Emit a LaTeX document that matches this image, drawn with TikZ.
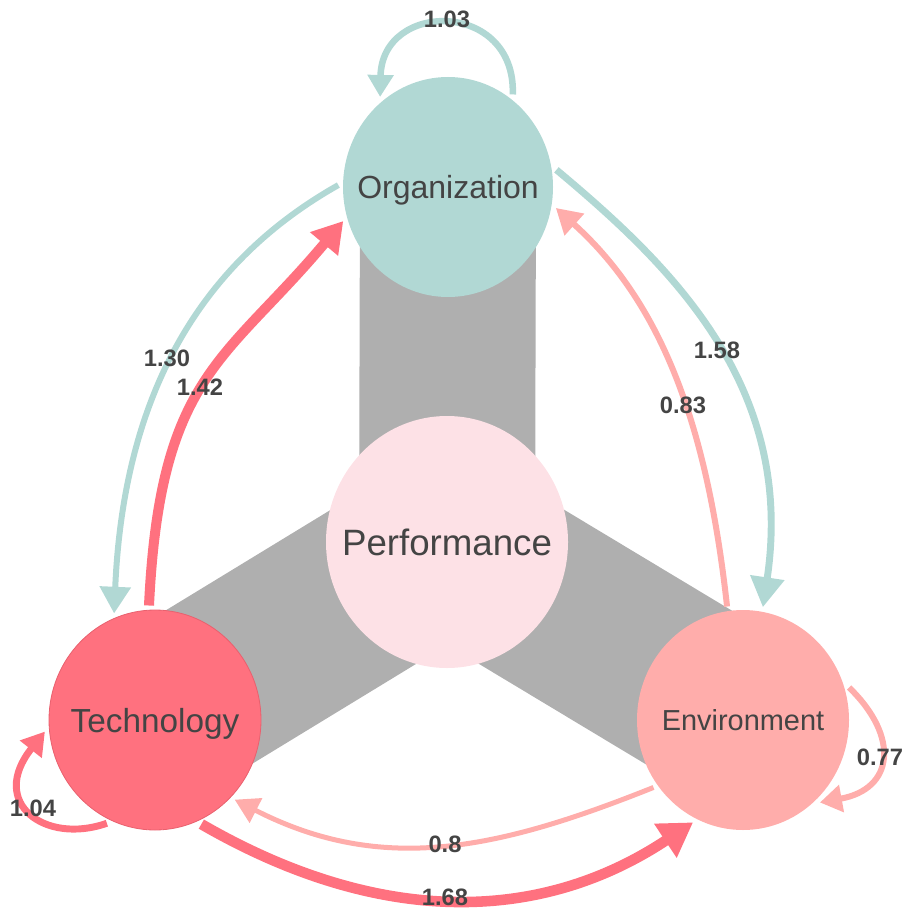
\documentclass[tikz,border=0pt]{standalone}
\usepackage{fontspec}
\setmainfont{Liberation Sans}
\usetikzlibrary{arrows.meta,shapes.geometric,backgrounds}
\definecolor{orgc}{HTML}{B1D8D4}
\definecolor{perfc}{HTML}{FDE1E6}
\definecolor{techc}{HTML}{FF717F}
\definecolor{techd}{HTML}{E9606E}
\definecolor{envc}{HTML}{FFADAB}
\definecolor{barc}{HTML}{AFAFAF}
\definecolor{ink}{HTML}{444444}
\newcommand{\ctext}[1]{\smash{\makebox[0pt]{\raisebox{-0.5\height}{#1}}}}
\tikzset{
  blob/.style 2 args={ellipse, minimum width=#1*0.75pt, minimum height=#2*0.75pt,
    inner sep=0pt, outer sep=3.5pt, text=ink},
  bar/.style={draw=barc, line width=132pt, line cap=butt},
  tealE/.style={draw=orgc, line cap=butt},
  redE/.style={draw=techc, line cap=butt},
  pinkE/.style={draw=envc, line cap=butt},
  tip/.style 2 args={-{Triangle[length=#1,width=#2]}},
  lbl/.style={font=\bfseries\fontsize{17.8}{20}\selectfont, text=ink, inner sep=0pt},
}
\begin{document}
\begin{tikzpicture}[x=0.75pt, y=-0.75pt]
\useasboundingbox (0,0) rectangle (904,909);

% factor nodes (labels are zero-size boxes so the ellipse keeps its given size)
\node[blob={210}{220}, fill=orgc, font=\fontsize{24}{28}\selectfont] (org) at (448,187) {\ctext{Organization}};
\node[blob={242}{252}, fill=perfc, font=\fontsize{27.5}{32}\selectfont] (perf) at (447,542) {\ctext{Performance}};
\node[blob={212}{220}, fill=techc, draw=techd, line width=0.6pt, font=\fontsize{25}{30}\selectfont] (tech) at (155,720) {\ctext{Technology}};
\node[blob={212}{220}, fill=envc, font=\fontsize{21.7}{26}\selectfont] (env) at (743,720) {\ctext{Environment}};

% thick grey links from the centre factor
\begin{scope}[on background layer]
  \draw[bar] (perf.center) -- (org.center);
  \draw[bar] (perf.center) -- (tech.center);
  \draw[bar] (perf.center) -- (env.center);
\end{scope}

% weighted directed edges
\draw[tealE, line width=4.9pt, tip={16.5pt}{18.75pt}]
  (org.55) .. controls (516,0) and (382,0) .. (org.127);
\draw[tealE, line width=4.5pt, tip={20pt}{22.5pt}]
  (org.179) .. controls (209,258) and (124,383) .. (tech.111);
\draw[redE, line width=7.5pt, tip={22.5pt}{26pt}]
  (tech.93) .. controls (160,375) and (225,362) .. (org.198);
\draw[tealE, line width=5.2pt, tip={22.5pt}{24.75pt}]
  (org.9) .. controls (669,264) and (796,385) .. (env.80);
\draw[pinkE, line width=4.5pt, tip={18.75pt}{21pt}]
  (env.98) .. controls (708,433) and (665,306) .. (org.349);
\draw[pinkE, line width=4.5pt, tip={16.5pt}{20pt}]
  (env.17) .. controls (900,737) and (894,789) .. (env.313);
\draw[redE, line width=5.2pt, tip={17pt}{20pt}]
  (tech.245) .. controls (45,845) and (-12,803) .. (tech.186);
\draw[pinkE, line width=3.75pt, tip={18pt}{20pt}]
  (env.217) .. controls (497,850) and (382,875) .. (tech.315);
\draw[redE, line width=7.9pt, tip={25pt}{29pt}]
  (tech.294) .. controls (367,920) and (531,930) .. (env.244);

% edge weights
\node[lbl] (w103) at (447,19) {1.03};
\node[lbl] (w130) at (167,358) {1.30};
\node[lbl] (w142) at (200,387) {1.42};
\node[lbl] (w158) at (717,350) {1.58};
\node[lbl] (w083) at (683,405) {0.83};
\node[lbl] (w077) at (880,757) {0.77};
\node[lbl] (w104) at (33,808) {1.04};
\node[lbl] (w080) at (445,844) {0.8};
\node[lbl] (w168) at (445,897) {1.68};
\end{tikzpicture}
\end{document}
